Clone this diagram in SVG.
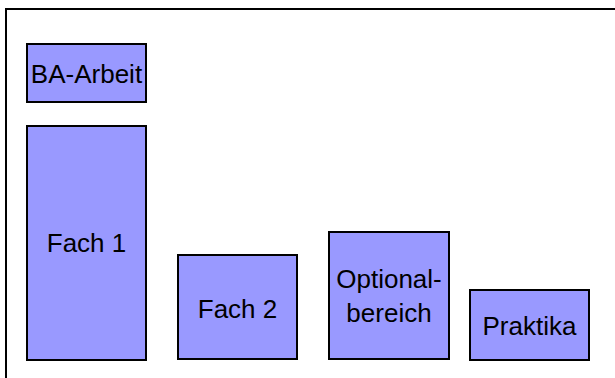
<svg xmlns="http://www.w3.org/2000/svg" width="615" height="378" viewBox="0 0 615 378">
<style>
.box{fill:#9999FF;stroke:#000;stroke-width:2}
.t{font-family:"Liberation Sans",Arial,sans-serif;font-size:26px;fill:#000;text-anchor:middle}
</style>
<rect x="0" y="0" width="615" height="378" fill="#fff"/>
<rect x="6" y="9" width="620" height="380" fill="none" stroke="#000" stroke-width="2"/>
<g id="ba-arbeit"><rect class="box" x="27" y="44" width="119" height="58"/><text class="t" x="86.5" y="83">BA-Arbeit</text></g>
<g id="fach1"><rect class="box" x="27" y="126" width="119" height="234"/><text class="t" x="86.5" y="252">Fach 1</text></g>
<g id="fach2"><rect class="box" x="178" y="255" width="119" height="104"/><text class="t" x="237.5" y="318">Fach 2</text></g>
<g id="optional"><rect class="box" x="329" y="232" width="120" height="127"/><text class="t" x="389" y="288">Optional-</text><text class="t" x="389" y="322">bereich</text></g>
<g id="praktika"><rect class="box" x="470" y="290" width="119" height="70"/><text class="t" x="529.5" y="335">Praktika</text></g>
<g id="connectors"/>
</svg>
